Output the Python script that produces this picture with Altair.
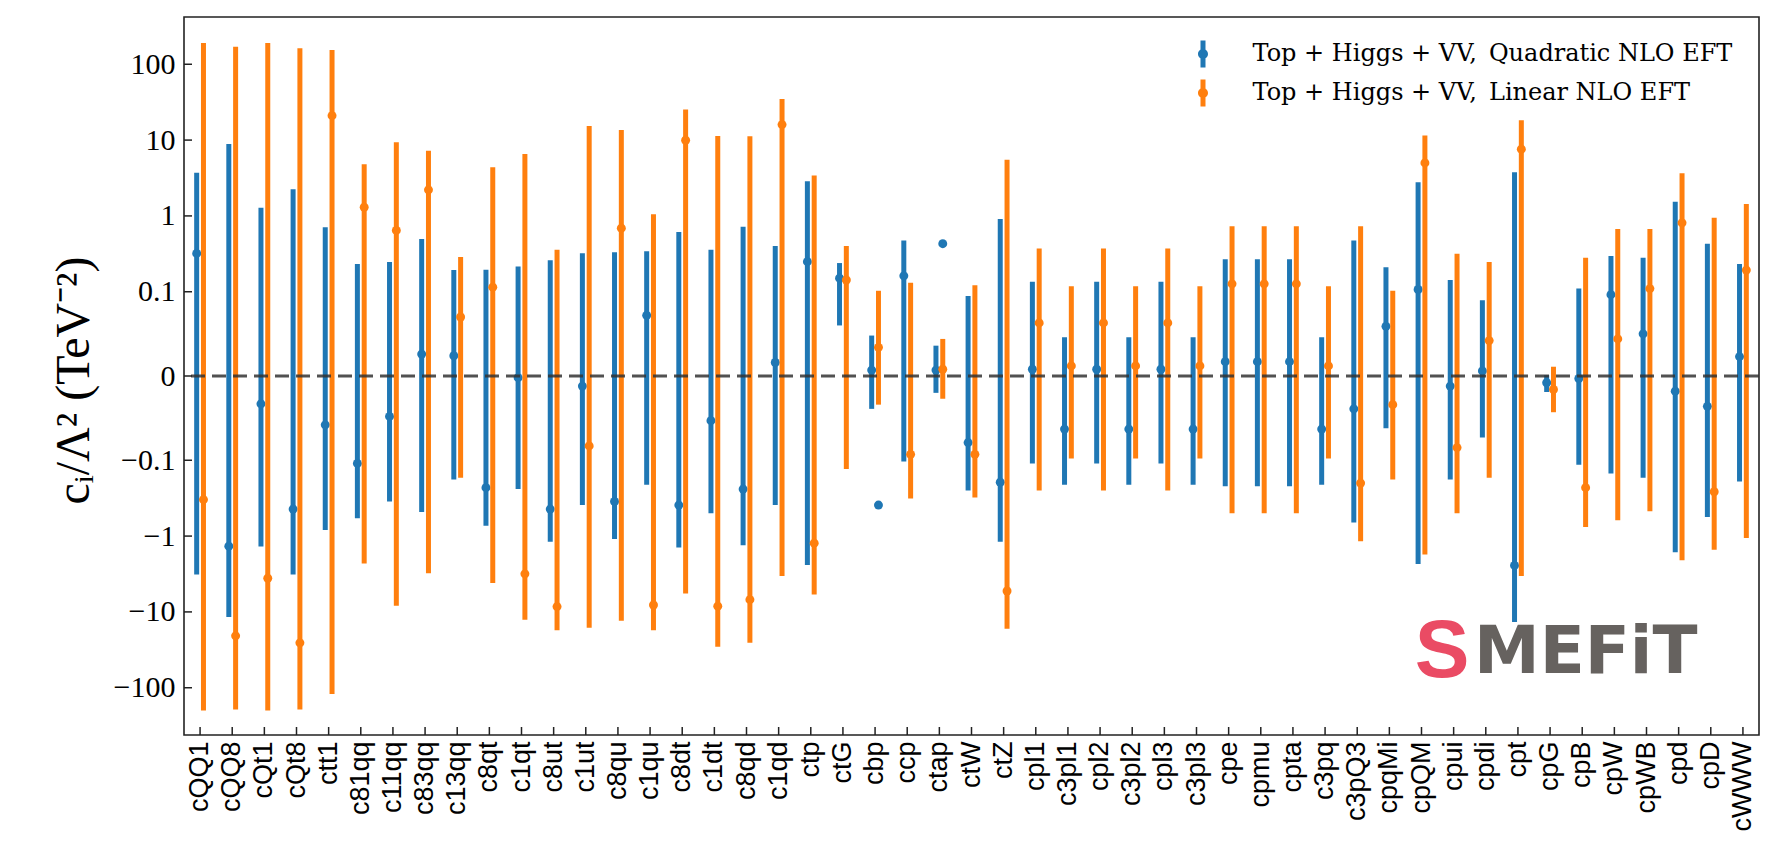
import math
import altair as alt
import pandas as pd

# ---------------- data ----------------
COEFS = ["cQQ1", "cQQ8", "cQt1", "cQt8", "ctt1", "c81qq", "c11qq", "c83qq", "c13qq",
         "c8qt", "c1qt", "c8ut", "c1ut", "c8qu", "c1qu", "c8dt", "c1dt", "c8qd", "c1qd",
         "ctp", "ctG", "cbp", "ccp", "ctap", "ctW", "ctZ", "cpl1", "c3pl1", "cpl2", "c3pl2",
         "cpl3", "c3pl3", "cpe", "cpmu", "cpta", "c3pq", "c3pQ3", "cpqMi", "cpQM", "cpui",
         "cpdi", "cpt", "cpG", "cpB", "cpW", "cpWB", "cpd", "cpD", "cWWW"]

QUAD_LO = [-3.2, -11.7, -1.37, -3.2, -0.83, -0.58, -0.35, -0.48, -0.18,
           -0.73, -0.24, -1.19, -0.39, -1.09, -0.21, -1.41, -0.50, -1.32, -0.39,
           -2.4, 0.060, -0.039, -0.104, -0.020, -0.25, -1.19, -0.11, -0.21, -0.11, -0.21,
           -0.11, -0.21, -0.22, -0.22, -0.22, -0.21, -0.66, -0.062, -2.34, -0.18,
           -0.073, -13.6, -0.019, -0.115, -0.15, -0.17, -1.63, -0.56, -0.19]
QUAD_HI = [3.7, 8.87, 1.28, 2.24, 0.71, 0.232, 0.246, 0.497, 0.193,
           0.195, 0.216, 0.261, 0.323, 0.332, 0.342, 0.615, 0.357, 0.721, 0.40,
           2.86, 0.239, 0.048, 0.475, 0.036, 0.095, 0.908, 0.135, 0.046, 0.135, 0.046,
           0.135, 0.046, 0.268, 0.268, 0.268, 0.046, 0.475, 0.21, 2.78, 0.143,
           0.090, 3.76, 0.001, 0.110, 0.297, 0.28, 1.54, 0.43, 0.232]
QUAD_VAL = [0.32, -1.36, -0.033, -0.44, -0.058, -0.11, -0.048, 0.026, 0.024,
            -0.23, -0.002, -0.44, -0.012, -0.35, 0.072, -0.39, -0.053, -0.24, 0.016,
            0.249, 0.151, 0.007, 0.162, 0.007, -0.079, -0.195, 0.008, -0.063, 0.008, -0.063,
            0.008, -0.063, 0.017, 0.017, 0.017, -0.063, -0.039, 0.059, 0.107, -0.012,
            0.006, -2.44, -0.008, -0.003, 0.0965, 0.050, -0.018, -0.036, 0.023]

LIN_LO = [-200, -194, -200, -194, -121, -2.3, -8.3, -3.1, -0.17,
          -4.15, -12.7, -17.4, -16.2, -13.1, -17.4, -5.7, -28.8, -25.6, -3.35,
          -5.9, -0.13, -0.034, -0.32, -0.027, -0.31, -16.7, -0.25, -0.098, -0.25, -0.098,
          -0.25, -0.098, -0.50, -0.50, -0.50, -0.098, -1.17, -0.18, -1.75, -0.50,
          -0.17, -3.35, -0.043, -0.76, -0.62, -0.47, -2.08, -1.52, -1.06]
LIN_HI = [191, 170, 191, 163, 154, 4.79, 9.4, 7.26, 0.288,
          4.40, 6.56, 0.357, 15.3, 13.6, 1.05, 25.3, 11.3, 11.2, 34.7,
          3.40, 0.40, 0.103, 0.131, 0.044, 0.122, 5.52, 0.372, 0.118, 0.372, 0.118,
          0.372, 0.118, 0.731, 0.731, 0.731, 0.118, 0.73, 0.103, 11.5, 0.318,
          0.246, 18.2, 0.011, 0.28, 0.67, 0.67, 3.65, 0.946, 1.44]
LIN_VAL = [-0.33, -20.7, -3.6, -25.6, 21.0, 1.30, 0.643, 2.21, 0.070,
           0.115, -3.15, -8.5, -0.083, 0.69, -8.1, 9.95, -8.4, -6.9, 16.0,
           -1.24, 0.143, 0.034, -0.093, 0.008, -0.093, -5.3, 0.063, 0.012, 0.063, 0.012,
           0.063, 0.012, 0.127, 0.127, 0.127, 0.012, -0.20, -0.034, 5.0, -0.085,
           0.042, 7.59, -0.016, -0.23, 0.044, 0.110, 0.81, -0.26, 0.193]

# isolated quadratic-fit points drawn in the linear column
EXTRA_COEFS = ["cbp", "ctap"]
EXTRA_VAL = [-0.39, 0.43]

SERIES = ["Top + Higgs + VV,\u2002Quadratic NLO EFT", "Top + Higgs + VV,\u2002Linear NLO EFT"]
COLORS = ["#1f77b4", "#ff7f0e"]

TICK_VALUES = [-100, -10, -1, -0.1, 0, 0.1, 1, 10, 100]
YLIM = 420

# ---------------- symlog helpers (matplotlib-style, linthresh 0.1) ----------------
LT = 0.1
LS = 1.0 / (1.0 - 1.0 / 10.0)


def symlog(v):
    if abs(v) <= LT:
        return v / LT * LS
    return math.copysign(LS + math.log10(abs(v) / LT), v)


def sl_expr(field):
    f = f"datum['{field}']"
    return (f"abs({f}) <= {LT} ? {f} / {LT} * {LS} : "
            f"({f} > 0 ? 1 : -1) * ({LS} + log(abs({f}) / {LT}) / LN10)")


LABEL_EXPR = (f"datum.value == 0 ? '0' : format((datum.value > 0 ? 1 : -1) * "
              f"(abs(datum.value) <= {LS} + 1e-9 ? abs(datum.value) / {LS} * {LT} : "
              f"{LT} * pow(10, abs(datum.value) - {LS})), '~g')")

W, H = 1575, 718
OFF = 3.4

rows = []
for i, c in enumerate(COEFS):
    rows.append({"coef": c, "series": SERIES[0], "lo": QUAD_LO[i], "hi": QUAD_HI[i], "val": QUAD_VAL[i]})
    rows.append({"coef": c, "series": SERIES[1], "lo": LIN_LO[i], "hi": LIN_HI[i], "val": LIN_VAL[i]})
df = pd.DataFrame(rows)
df_extra = pd.DataFrame({"coef": EXTRA_COEFS, "series": SERIES[0], "val": EXTRA_VAL})

x_scale = alt.Scale(domain=COEFS, paddingInner=0, paddingOuter=0)
y_scale = alt.Scale(domain=[symlog(-YLIM), symlog(YLIM)], nice=False, zero=False)

x_axis = alt.Axis(title=None, labelAngle=270, labelFont="Liberation Sans", labelFontSize=27,
                  labelColor="black", labelPadding=6, ticks=False, domain=False, grid=False,
                  labelOverlap=False, labelLimit=0)
y_axis = alt.Axis(values=[symlog(v) for v in TICK_VALUES], labelExpr=LABEL_EXPR,
                  ticks=False, domain=False, grid=False, labelFont="Liberation Serif",
                  labelFontSize=30, labelColor="black", labelPadding=9, labelOverlap=False,
                  title="c\u1d62/\u039b\u00b2 (TeV\u207b\u00b2)", titleFont="Liberation Serif",
                  titleFontSize=48, titleFontWeight="normal", titleColor="black",
                  titleAngle=270, titleX=-110, titleY=363, titleAlign="center",
                  titleBaseline="middle")


def X():
    return alt.X("coef:N", sort=COEFS, scale=x_scale, axis=x_axis)


def Y(field):
    return alt.Y(f"{field}:Q", scale=y_scale, axis=y_axis)


PATH = ("M-0.185,-1H0.185V1H-0.185Z "
        "M0.37,0A0.37,0.37,0,1,1,-0.37,0A0.37,0.37,0,1,1,0.37,0Z")
legend = alt.Legend(title=None, orient="none", legendX=1005.5, legendY=23.5, symbolType=PATH,
                    symbolSize=729, symbolStrokeWidth=0, labelFont="DejaVu Serif",
                    labelFontSize=24, labelColor="black", labelOffset=36, rowPadding=12,
                    padding=0, labelLimit=0)
color = alt.Color("series:N", scale=alt.Scale(domain=SERIES, range=COLORS), legend=legend)

base = alt.Chart(df).transform_calculate(y_lo=sl_expr("lo"), y_hi=sl_expr("hi"),
                                         y_val=sl_expr("val"))

# logo (decoration)
logo_df = pd.DataFrame({"t": ["MEFiT"], "s": ["S"]})
logo_text = alt.Chart(logo_df).mark_text(font="DejaVu Sans", fontWeight="bold", fontSize=66,
                                         color="#66625f", align="left",
                                         baseline="alphabetic").encode(
    text="t:N", x=alt.value(1290), y=alt.value(656))
logo_s = alt.Chart(logo_df).mark_text(font="Liberation Sans", fontWeight="bold", fontSize=82,
                                      color="#ea4b64", align="center", baseline="alphabetic").encode(
    text="s:N", x=alt.value(1258), y=alt.value(660))

layers = [logo_s, logo_text]
for s, col, off in [(SERIES[0], COLORS[0], -OFF), (SERIES[1], COLORS[1], OFF)]:
    sub = base.transform_filter(alt.datum.series == s)
    layers.append(sub.mark_rule(strokeWidth=5, xOffset=off, color=col).encode(
        x=X(), y=Y("y_lo"), y2="y_hi:Q"))
    layers.append(sub.mark_circle(size=80, opacity=1, xOffset=off).encode(
        x=X(), y=Y("y_val"), color=color))

layers.append(alt.Chart(df_extra).transform_calculate(y_val=sl_expr("val")).mark_circle(
    size=80, opacity=1, xOffset=OFF).encode(x=X(), y=Y("y_val"), color=color))

zero = alt.Chart(pd.DataFrame({"z": [0.0]})).transform_calculate(y_z=sl_expr("z")).mark_rule(
    strokeDash=[14, 7], strokeWidth=3, color="#333333", opacity=0.85).encode(y=Y("y_z"))
layers.append(zero)

yticks = alt.Chart(pd.DataFrame({"t": TICK_VALUES})).transform_calculate(y_t=sl_expr("t")).mark_rule(
    color="#222222", strokeWidth=1.5).encode(y=Y("y_t"), x=alt.value(0), x2=alt.value(8))
xticks = alt.Chart(pd.DataFrame({"coef": COEFS})).mark_rule(color="#222222", strokeWidth=1.5).encode(
    x=X(), y=alt.value(H - 8), y2=alt.value(H))
layers += [yticks, xticks]

chart = alt.layer(*layers).properties(
    width=W, height=H,
    autosize=alt.AutoSizeParams(type="none"),
    padding={"left": 176, "top": 9, "right": 3, "bottom": 97},
    background="white",
).configure_view(stroke="#222222", strokeWidth=1.6)

chart.save("out.html", embed_options={"renderer": "svg", "actions": False})
